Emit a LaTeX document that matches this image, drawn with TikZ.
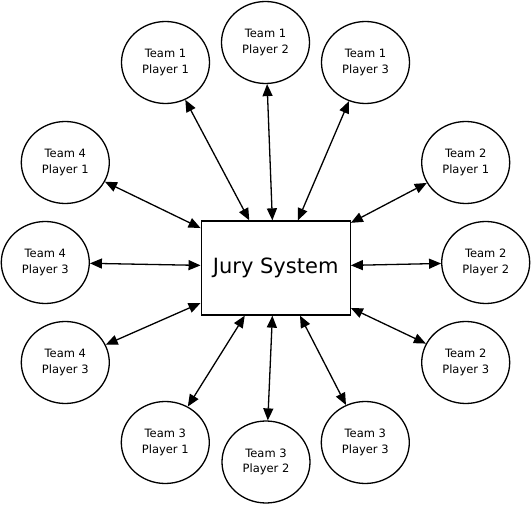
\documentclass[tikz,border=0pt]{standalone}
\usepackage{fontspec}
\setmainfont{DejaVu Sans}
\usetikzlibrary{shapes.geometric,arrows.meta}
\begin{document}
\begin{tikzpicture}[x=1pt,y=-1pt,
  player/.style={draw,ellipse,line width=1.3pt,minimum width=88pt,minimum height=82pt,inner sep=0pt,align=center,font=\fontsize{11.5}{15.5}\selectfont},
  jurybox/.style={draw,rectangle,line width=1.3pt,minimum width=149pt,minimum height=94pt,inner sep=0pt,font=\fontsize{21}{24}\selectfont},
  link/.style={line width=1.3pt,{Triangle[length=12pt,width=10pt]}-{Triangle[length=12pt,width=10pt]}}]
\useasboundingbox (0,0) rectangle (531,505);
\node[jurybox] (jury) at (275.7,268) {Jury System};
\node[player] (t1p1) at (165.5,62.5) {Team 1\\Player 1};
\node[player] (t1p2) at (265.5,42.5) {Team 1\\Player 2};
\node[player] (t1p3) at (365.5,62.5) {Team 1\\Player 3};
\node[player] (t4p1) at (65.3,162.5) {Team 4\\Player 1};
\node[player] (t4p3a) at (45.3,262.5) {Team 4\\Player 3};
\node[player] (t4p3b) at (65.3,362.5) {Team 4\\Player 3};
\node[player] (t2p1) at (465.7,162.5) {Team 2\\Player 1};
\node[player] (t2p2) at (485.7,262.5) {Team 2\\Player 2};
\node[player] (t2p3) at (465.7,362.5) {Team 2\\Player 3};
\node[player] (t3p1) at (165.3,442.5) {Team 3\\Player 1};
\node[player] (t3p2) at (266,462) {Team 3\\Player 2};
\node[player] (t3p3) at (365.3,442.5) {Team 3\\Player 3};
\draw[link] (t1p1) -- (jury.119);
\draw[link] (t1p2) -- (jury.94);
\draw[link] (t1p3) -- (jury.65);
\draw[link] (t4p1) -- (jury.152);
\draw[link] (t4p3a) -- (jury.178);
\draw[link] (t4p3b) -- (jury.205);
\draw[link] (t2p1) -- (jury.31);
\draw[link] (t2p2) -- (jury.2);
\draw[link] (t2p3) -- (jury.332);
\draw[link] (t3p1) -- (jury.237);
\draw[link] (t3p2) -- (jury.266);
\draw[link] (t3p3) -- (jury.297);
\end{tikzpicture}
\end{document}
